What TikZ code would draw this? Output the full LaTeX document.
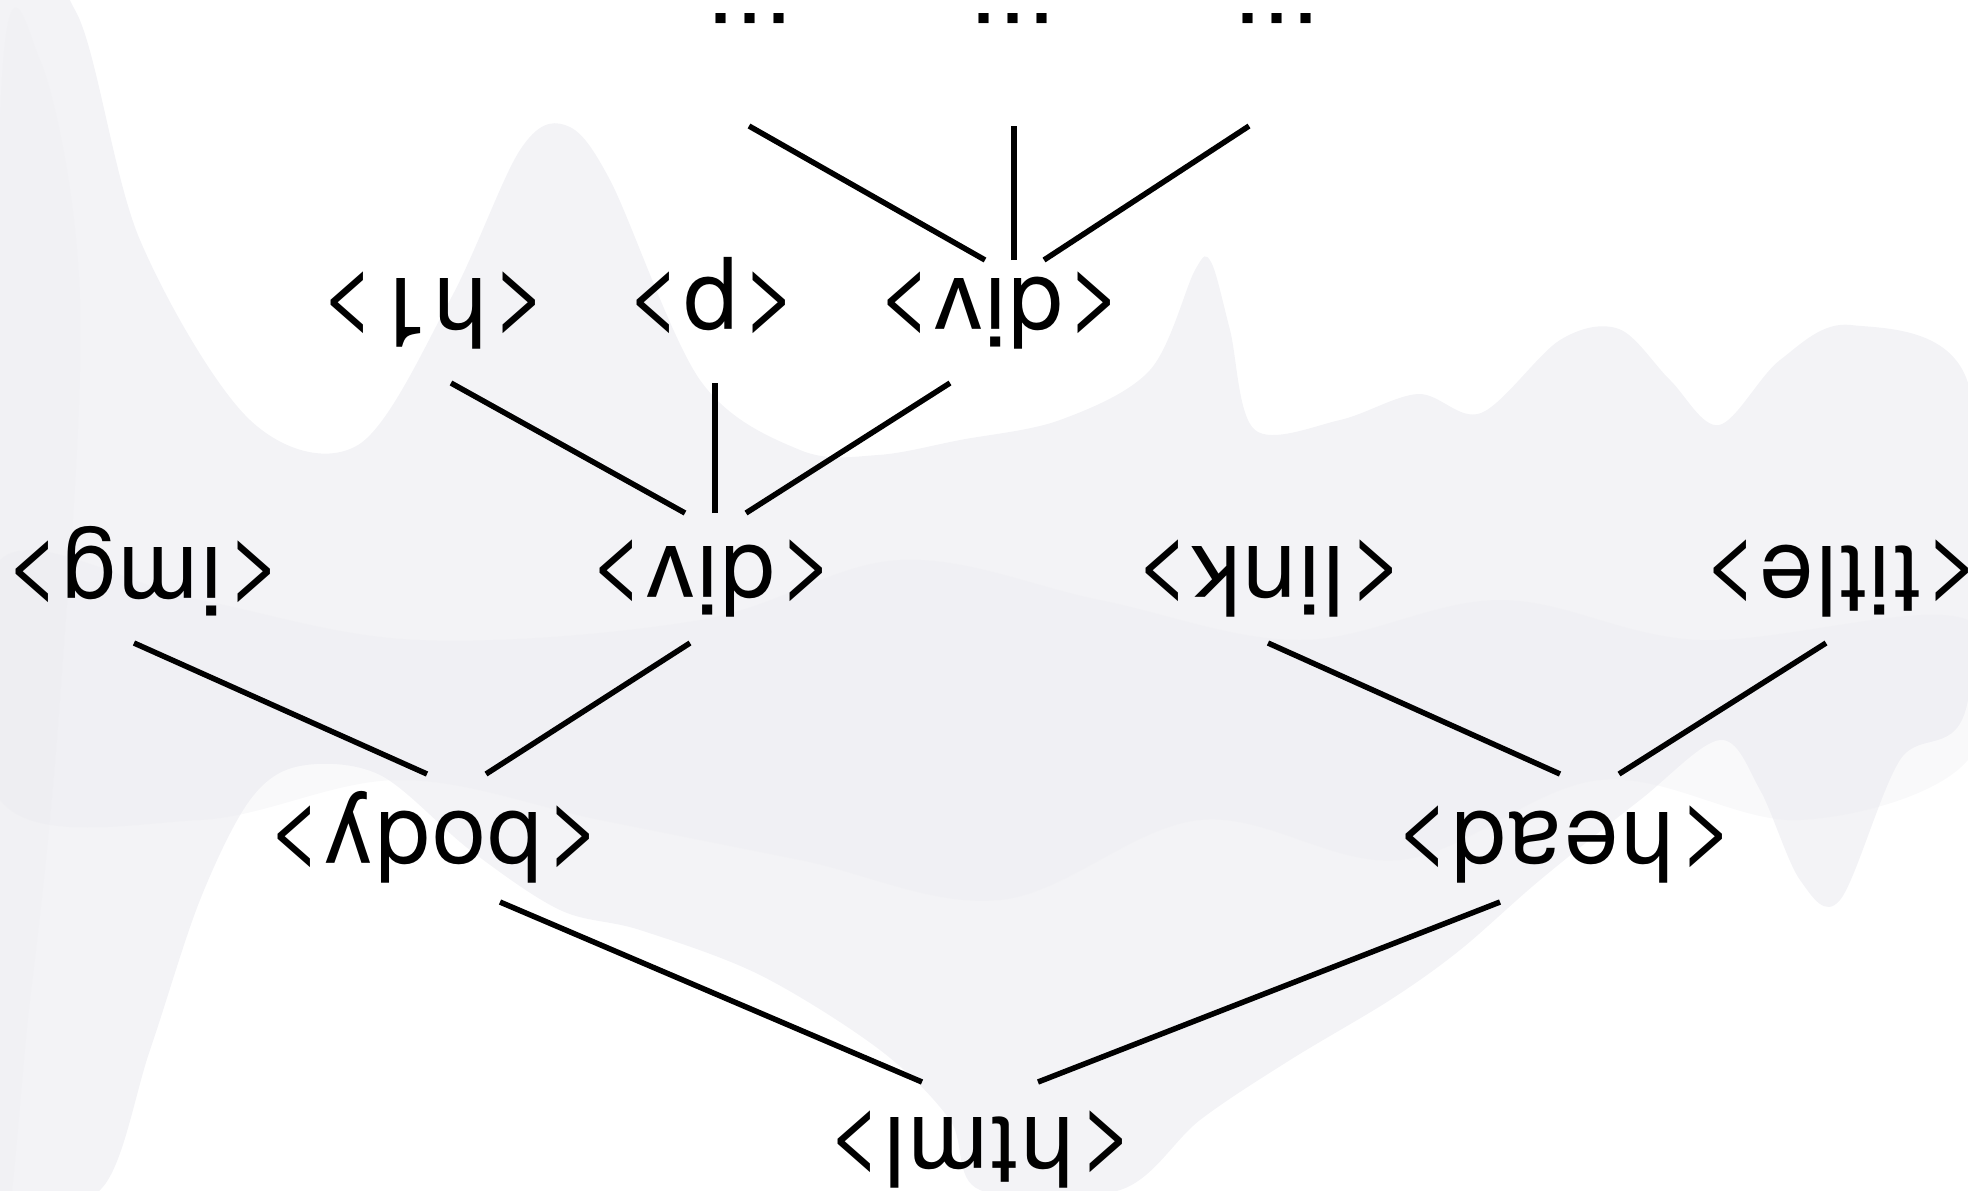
\documentclass[tikz,border=0pt]{standalone}
\usepackage{fontspec}
\setmainfont{TeX Gyre Heros}[LetterSpace=2.5]
\definecolor{bgA}{RGB}{243,243,246}
\definecolor{bgB}{RGB}{236,236,240}
\begin{document}
\begin{tikzpicture}[x=0.5pt,y=-0.5pt,
  tag/.style={inner sep=0pt, anchor=base, font=\fontsize{48.5}{58}\selectfont},
  edge/.style={line width=2.75pt, black}]
\useasboundingbox (0,0) rectangle (1968,1190);
\clip (0,0) rectangle (1968,1190);
% faint background waves
\fill[bgA] plot[smooth cycle, tension=0.55] coordinates {
 (0,0) (75,10) (140,240) (250,420) (358,445) (450,300) (520,150) (565,125)
 (610,180) (700,380) (800,450) (878,455) (960,440) (1060,420) (1150,370)
 (1195,270) (1211,262) (1230,330) (1255,430) (1340,420) (1418,394) (1481,413)
 (1560,340) (1619,329) (1670,380) (1719,425) (1780,360) (1851,325) (1968,383)
 (1968,700) (1900,760) (1840,900) (1800,880) (1760,790) (1720,740) (1640,800)
 (1540,880) (1460,950) (1390,1000) (1290,1060) (1200,1120) (1120,1190)
 (980,1190) (950,1120) (880,1050) (760,975) (640,930) (560,910) (470,850)
 (380,775) (300,766) (250,800) (200,900) (150,1050) (100,1190) (0,1190)};
\fill[bgB, opacity=0.3] plot[smooth cycle, tension=0.6] coordinates {
 (0,560) (200,600) (420,640) (700,620) (900,560) (1100,600) (1300,640)
 (1500,600) (1700,640) (1968,620) (1968,760) (1800,820) (1600,780)
 (1400,860) (1200,820) (1000,900) (800,860) (600,820) (400,780) (200,820) (0,800)};
\fill[bgB, opacity=0.25] plot[smooth cycle, tension=0.6] coordinates {
 (0,120) (40,60) (80,300) (60,700) (30,1000) (0,1190)};
% nodes
\node[tag] (html)  at (979,1117) {\rotatebox{180}{<html>}};
\node[tag] (body)  at (433,812)  {\rotatebox{180}{<body>}};
\node[tag] (head)  at (1563,812) {\rotatebox{180}{<head>}};
\node[tag] (img)   at (142,547)  {\rotatebox{180}{<img>}};
\node[tag] (divA)  at (710,546)  {\rotatebox{180}{<div>}};
\node[tag] (link)  at (1268,546) {\rotatebox{180}{<link>}};
\node[tag] (title) at (1840,546) {\rotatebox{180}{<title>}};
\node[tag] (hone)  at (432,278)  {\rotatebox{180}{<h1>}};
\node[tag] (para)  at (710,278)  {\rotatebox{180}{<p>}};
\node[tag] (divB)  at (998,278)  {\rotatebox{180}{<div>}};
\node[tag] (dotsA) at (750,13)   {\rotatebox{180}{...}};
\node[tag] (dotsB) at (1013,13)  {\rotatebox{180}{...}};
\node[tag] (dotsC) at (1277,13)  {\rotatebox{180}{...}};
% connectors
\draw[edge] ([shift={(-57,-35)}]html.base) -- ([shift={(67,90)}]body.base);
\draw[edge] ([shift={(59,-35)}]html.base) -- ([shift={(-63,90)}]head.base);
\draw[edge] ([shift={(-6,-38)}]body.base) -- ([shift={(-8,96)}]img.base);
\draw[edge] ([shift={(53,-38)}]body.base) -- ([shift={(-20,97)}]divA.base);
\draw[edge] ([shift={(-3,-38)}]head.base) -- ([shift={(0,97)}]link.base);
\draw[edge] ([shift={(56,-38)}]head.base) -- ([shift={(-14,97)}]title.base);
\draw[edge] ([shift={(-25,-33)}]divA.base) -- ([shift={(19,105)}]hone.base);
\draw[edge] ([shift={(5,-33)}]divA.base) -- ([shift={(5,105)}]para.base);
\draw[edge] ([shift={(36,-33)}]divA.base) -- ([shift={(-48,105)}]divB.base);
\draw[edge] ([shift={(-13,-18)}]divB.base) -- ([shift={(-1,113)}]dotsA.base);
\draw[edge] ([shift={(16,-18)}]divB.base) -- ([shift={(1,113)}]dotsB.base);
\draw[edge] ([shift={(46,-18)}]divB.base) -- ([shift={(-28,113)}]dotsC.base);
\end{tikzpicture}
\end{document}
